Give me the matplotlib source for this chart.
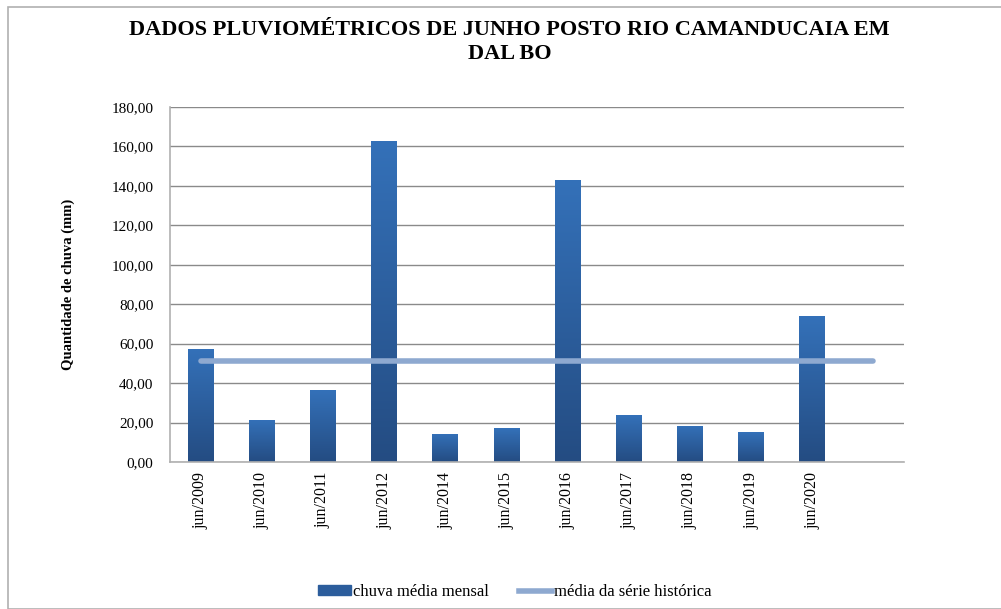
import matplotlib
matplotlib.use("Agg")
import matplotlib.pyplot as plt
import numpy as np
from matplotlib.patches import Rectangle
from matplotlib.lines import Line2D
from matplotlib.ticker import FuncFormatter
from matplotlib.colors import LinearSegmentedColormap

categories = ["jun/2009", "jun/2010", "jun/2011", "jun/2012", "jun/2014", "jun/2015",
              "jun/2016", "jun/2017", "jun/2018", "jun/2019", "jun/2020", ""]
rain = [57.3, 21.3, 36.5, 162.8, 14.2, 17.2, 143.0, 23.8, 18.3, 15.2, 74.0, np.nan]
mean_hist = [51.2] * 12
yticks = [0, 20, 40, 60, 80, 100, 120, 140, 160, 180]

plt.rcParams['font.family'] = ['Liberation Serif', 'DejaVu Serif']

fig = plt.figure(figsize=(10.01, 6.09), dpi=100)
fig.patches.append(Rectangle((8/1001, 0), 1.2, 1 - 7/609, transform=fig.transFigure,
                             fill=False, edgecolor='#b0b0b0', lw=1.2, zorder=0))
ax = fig.add_axes([170/1001, 1 - 462/609, 734/1001, 355/609])

x = np.arange(len(categories))
bars = ax.bar(x, rain, width=0.42, color='#2c5d9c', zorder=3, linewidth=0)

grad = np.linspace(0, 1, 256).reshape(-1, 1)
cmap = LinearSegmentedColormap.from_list('g', ['#244c82', '#3471b9'])
for b in bars:
    h = b.get_height()
    if not np.isfinite(h) or h <= 0:
        continue
    x0 = b.get_x(); w = b.get_width()
    im = ax.imshow(grad, extent=(x0, x0 + w, 0, h), origin='lower', aspect='auto',
                   cmap=cmap, zorder=4)
    im.set_clip_path(b)

ax.plot(x, mean_hist, color='#8ea9d0', lw=4, solid_capstyle='round', zorder=5)

ax.set_xlim(-0.5, len(categories) - 0.5)
ax.set_ylim(0, 180)
ax.set_yticks(yticks)
ax.yaxis.set_major_formatter(FuncFormatter(lambda v, p: f"{v:.2f}".replace('.', ',')))
ax.set_xticks(x)
ax.set_xticklabels(categories, rotation=90, fontsize=11.5)
ax.tick_params(axis='y', labelsize=11, length=0, pad=12)
ax.tick_params(axis='x', length=0, pad=7)
ax.grid(axis='y', color='#8a8a8a', lw=1, zorder=1)
for s in ['top', 'right']:
    ax.spines[s].set_visible(False)
ax.spines['left'].set_color('#b0b0b0')
ax.spines['bottom'].set_color('#b0b0b0')
ax.spines['left'].set_linewidth(1.2)
ax.spines['bottom'].set_linewidth(1.2)
ax.spines['bottom'].set_zorder(6)

ax.set_ylabel("Quantidade de chuva (mm)", fontsize=10.5, fontweight='bold', labelpad=26)
fig.text(0.509, 1 - 42/609, "DADOS PLUVIOMÉTRICOS DE JUNHO POSTO RIO CAMANDUCAIA EM\nDAL BO",
         ha='center', va='center', fontsize=16, fontweight='bold', linespacing=1.3)

handles = [Rectangle((0, 0), 1, 1, color='#2c5d9c'),
           Line2D([0], [0], color='#8ea9d0', lw=4)]
fig.legend(handles, ["chuva média mensal", "média da série histórica"],
           loc='center', bbox_to_anchor=(0.514, 1 - 592/609), ncol=2, frameon=False,
           fontsize=12, handlelength=2.0, handleheight=0.5, handletextpad=0.1, columnspacing=1.8)

fig.savefig("out.png", dpi=100)
